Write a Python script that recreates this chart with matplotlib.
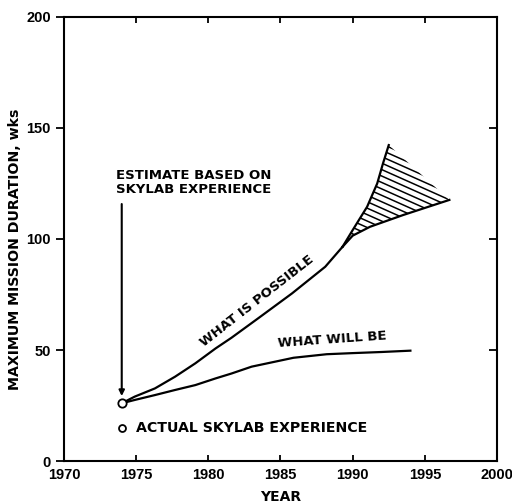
import numpy as np
import matplotlib.pyplot as plt

plt.rcParams['font.family'] = ['Liberation Sans', 'DejaVu Sans']
plt.rcParams['font.weight'] = 'bold'
plt.rcParams['axes.labelweight'] = 'bold'

# "what is possible" curve up to the split point
possible_x = [1974, 1974.9, 1976.3, 1977.7, 1979.1, 1980.5, 1981.6, 1983.5, 1985.8, 1988.1, 1989.3]
possible_y = [26, 29, 32.7, 38, 44, 50.7, 55.5, 64.5, 75.5, 87.5, 96.5]

# upper and lower bounds of the hatched band
upper_x = [1989.3, 1990.0, 1991.0, 1991.7, 1992.1, 1992.5]
upper_y = [96.5, 104, 114.5, 125, 134, 142.3]
lower_x = [1989.3, 1990.0, 1991.2, 1993.5, 1996.7]
lower_y = [96.5, 101.5, 105.5, 110.8, 117.6]

# "what will be" curve
willbe_x = [1974, 1974.9, 1976.3, 1977.7, 1979.1, 1980.5, 1981.6, 1983.0, 1985.9,
            1988.2, 1990, 1992, 1994.0]
willbe_y = [26, 27.5, 29.7, 32, 34.2, 37.2, 39.4, 42.5, 46.5, 48.1, 48.6, 49.1, 49.7]

skylab_year = 1974
skylab_est = 26
skylab_actual = 15

xticks = [1970, 1975, 1980, 1985, 1990, 1995, 2000]
yticks = [0, 50, 100, 150, 200]

txt = dict(family='DejaVu Sans', fontweight='bold', fontsize=9.5)

fig = plt.figure(figsize=(5.12, 5.04), dpi=100)
ax = fig.add_axes([0.125, 0.0853, 0.8457, 0.881])
ax.set_xlim(1970, 2000)
ax.set_ylim(0, 200)

ax.plot(possible_x, possible_y, color='black', lw=1.6)
ax.plot(upper_x, upper_y, color='black', lw=1.6)
ax.plot(lower_x, lower_y, color='black', lw=1.6)
ax.plot(willbe_x, willbe_y, color='black', lw=1.6)

# hatched band between the bounds, shallow hatch lines clipped to it
band_x = upper_x + lower_x[::-1]
band_y = upper_y + lower_y[::-1]
band = ax.fill(band_x, band_y, fill=False, linewidth=0)[0]
hx = np.array([1988, 1998])
for c in np.arange(82, 150, 2.9):
    ln, = ax.plot(hx, c - 2.9 * (hx - 1990), color='black', lw=1.1)
    ln.set_clip_path(band)

ax.plot([skylab_year], [skylab_est], 'o', mfc='white', mec='black', ms=6, mew=1.3, zorder=5)

ax.annotate('', xy=(skylab_year, skylab_est + 2), xytext=(skylab_year, 117),
            arrowprops=dict(arrowstyle='-|>', color='black', lw=1.5, mutation_scale=8))
ax.text(1973.6, 131.5, 'ESTIMATE BASED ON\nSKYLAB EXPERIENCE',
        va='top', ha='left', linespacing=1.1, **txt)

ax.plot([skylab_year], [skylab_actual], 'o', mfc='white', mec='black', ms=5, mew=1.3)
ax.text(1975.0, skylab_actual, 'ACTUAL SKYLAB EXPERIENCE', va='center', ha='left',
        family='DejaVu Sans', fontweight='bold', fontsize=10.2)

ax.text(1983.4, 72, 'WHAT IS POSSIBLE', rotation=38,
        ha='center', va='center', rotation_mode='anchor', **txt)
ax.text(1988.6, 54.5, 'WHAT WILL BE', rotation=4,
        ha='center', va='center', rotation_mode='anchor', **txt)

ax.set_xticks(xticks)
ax.set_yticks(yticks)
ax.tick_params(axis='x', direction='in', top=True, length=4.5, width=1.3, labelsize=10.5, pad=5)
ax.tick_params(axis='y', direction='out', length=6, width=1.3, labelsize=10.5)
ax.tick_params(axis='y', which='both', right=True)
for t in ax.yaxis.get_ticklines()[1::2]:
    t.set_marker(0)
for s in ax.spines.values():
    s.set_linewidth(1.5)

ax.set_xlabel('YEAR', fontsize=10, family='DejaVu Sans', labelpad=6)
ax.set_ylabel('MAXIMUM MISSION DURATION, wks', fontsize=10.2, family='DejaVu Sans')
ax.yaxis.set_label_coords(-0.098, 0.477)

fig.savefig('out.png', dpi=100)
